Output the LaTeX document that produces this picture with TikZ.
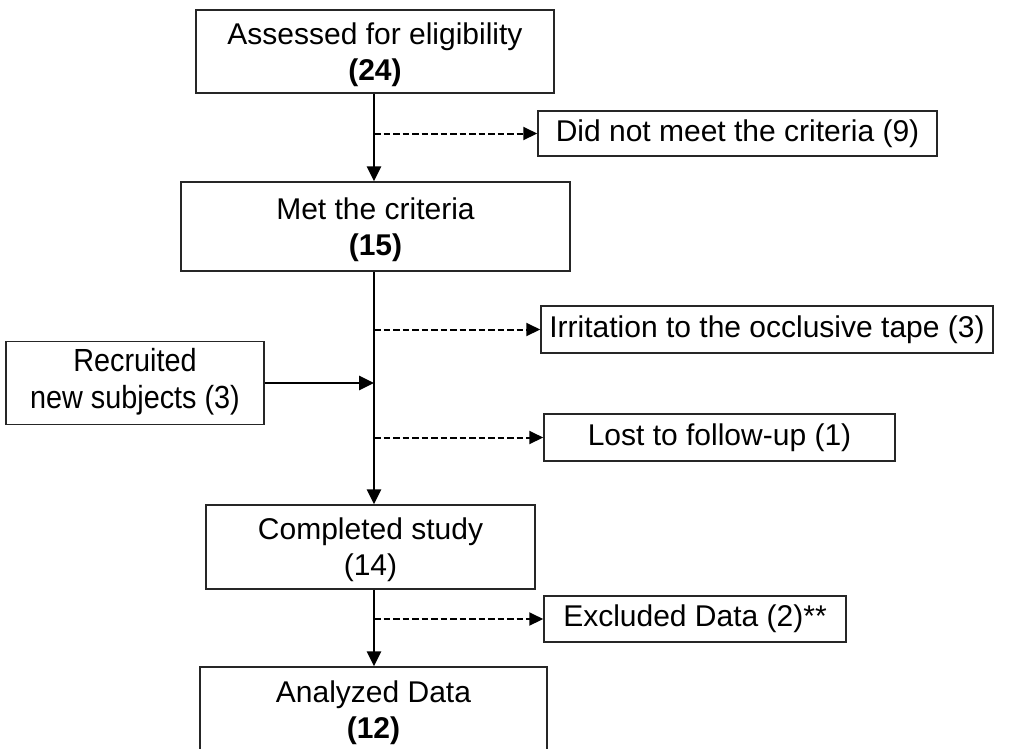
\documentclass[tikz,border=0pt]{standalone}
\usepackage{fontspec}
\setmainfont{Liberation Sans}
\usetikzlibrary{arrows.meta}
\newcommand{\twoline}[3][36pt]{\raisebox{-#2}[\height][\depth]{\fontsize{30}{#1}\selectfont\begin{tabular}{@{}c@{}}#3\end{tabular}}}
\tikzset{
  box/.style={draw=black!85, line width=1.5pt, inner sep=0pt, align=center,
    font=\fontsize{30}{36}\selectfont},
  flow/.style={line width=2.8pt, -{Triangle[length=15pt,width=14pt]}},
  side/.style={line width=2pt, dash pattern=on 6.5pt off 3pt, -{Triangle[length=14pt,width=13pt]}},
}
\begin{document}
\begin{tikzpicture}[x=1pt,y=-1pt]
\useasboundingbox (0,0) rectangle (1019,748);
\clip (0,0) rectangle (1019,748);
\coordinate (spine) at (374,0);
\node[box, minimum width=358pt, minimum height=83pt] (assess) at (375,51.5) {\twoline{4pt}{Assessed for eligibility\\\textbf{(24)}}};
\node[box, minimum width=399pt, minimum height=45pt] (notmet) at (737.5,133.5) {Did not meet the criteria (9)};
\node[box, minimum width=389pt, minimum height=89pt] (met) at (375.5,226.5) {\twoline{4pt}{Met the criteria\\\textbf{(15)}}};
\node[box, minimum width=452pt, minimum height=47pt] (irrit) at (767,329.5) {Irritation to the occlusive tape (3)};
\node[box, minimum width=258pt, minimum height=83pt] (recruit) at (135,383) {\scalebox{0.9}[1]{\fontsize{32}{37}\selectfont\begin{tabular}{@{}c@{}}Recruited\\new subjects (3)\end{tabular}}};
\node[box, minimum width=351pt, minimum height=47pt] (lost) at (719.5,437.5) {Lost to follow-up (1)};
\node[box, minimum width=329pt, minimum height=84pt] (compl) at (370.5,547) {\twoline{3pt}{Completed study\\(14)}};
\node[box, minimum width=302pt, minimum height=46pt] (excl) at (695,619) {Excluded Data (2)**};
\node[box, minimum width=347pt, minimum height=86pt] (anal) at (373.5,710) {\twoline{3pt}{Analyzed Data\\\textbf{(12)}}};
\coordinate (j1) at (spine |- notmet.west);
\coordinate (j2) at (spine |- irrit.west);
\coordinate (j3) at (spine |- recruit.east);
\coordinate (j4) at (spine |- lost.west);
\coordinate (j5) at (spine |- excl.west);
\draw[flow] (assess.south -| spine) -- (met.north -| spine);
\draw[flow] (met.south -| spine) -- (compl.north -| spine);
\draw[flow] (compl.south -| spine) -- (anal.north -| spine);
\draw[flow] (recruit.east) -- (j3);
\draw[side] (j1) -- (notmet.west);
\draw[side] (j2) -- (irrit.west);
\draw[side] (j4) -- (lost.west);
\draw[side] (j5) -- (excl.west);
\end{tikzpicture}
\end{document}
